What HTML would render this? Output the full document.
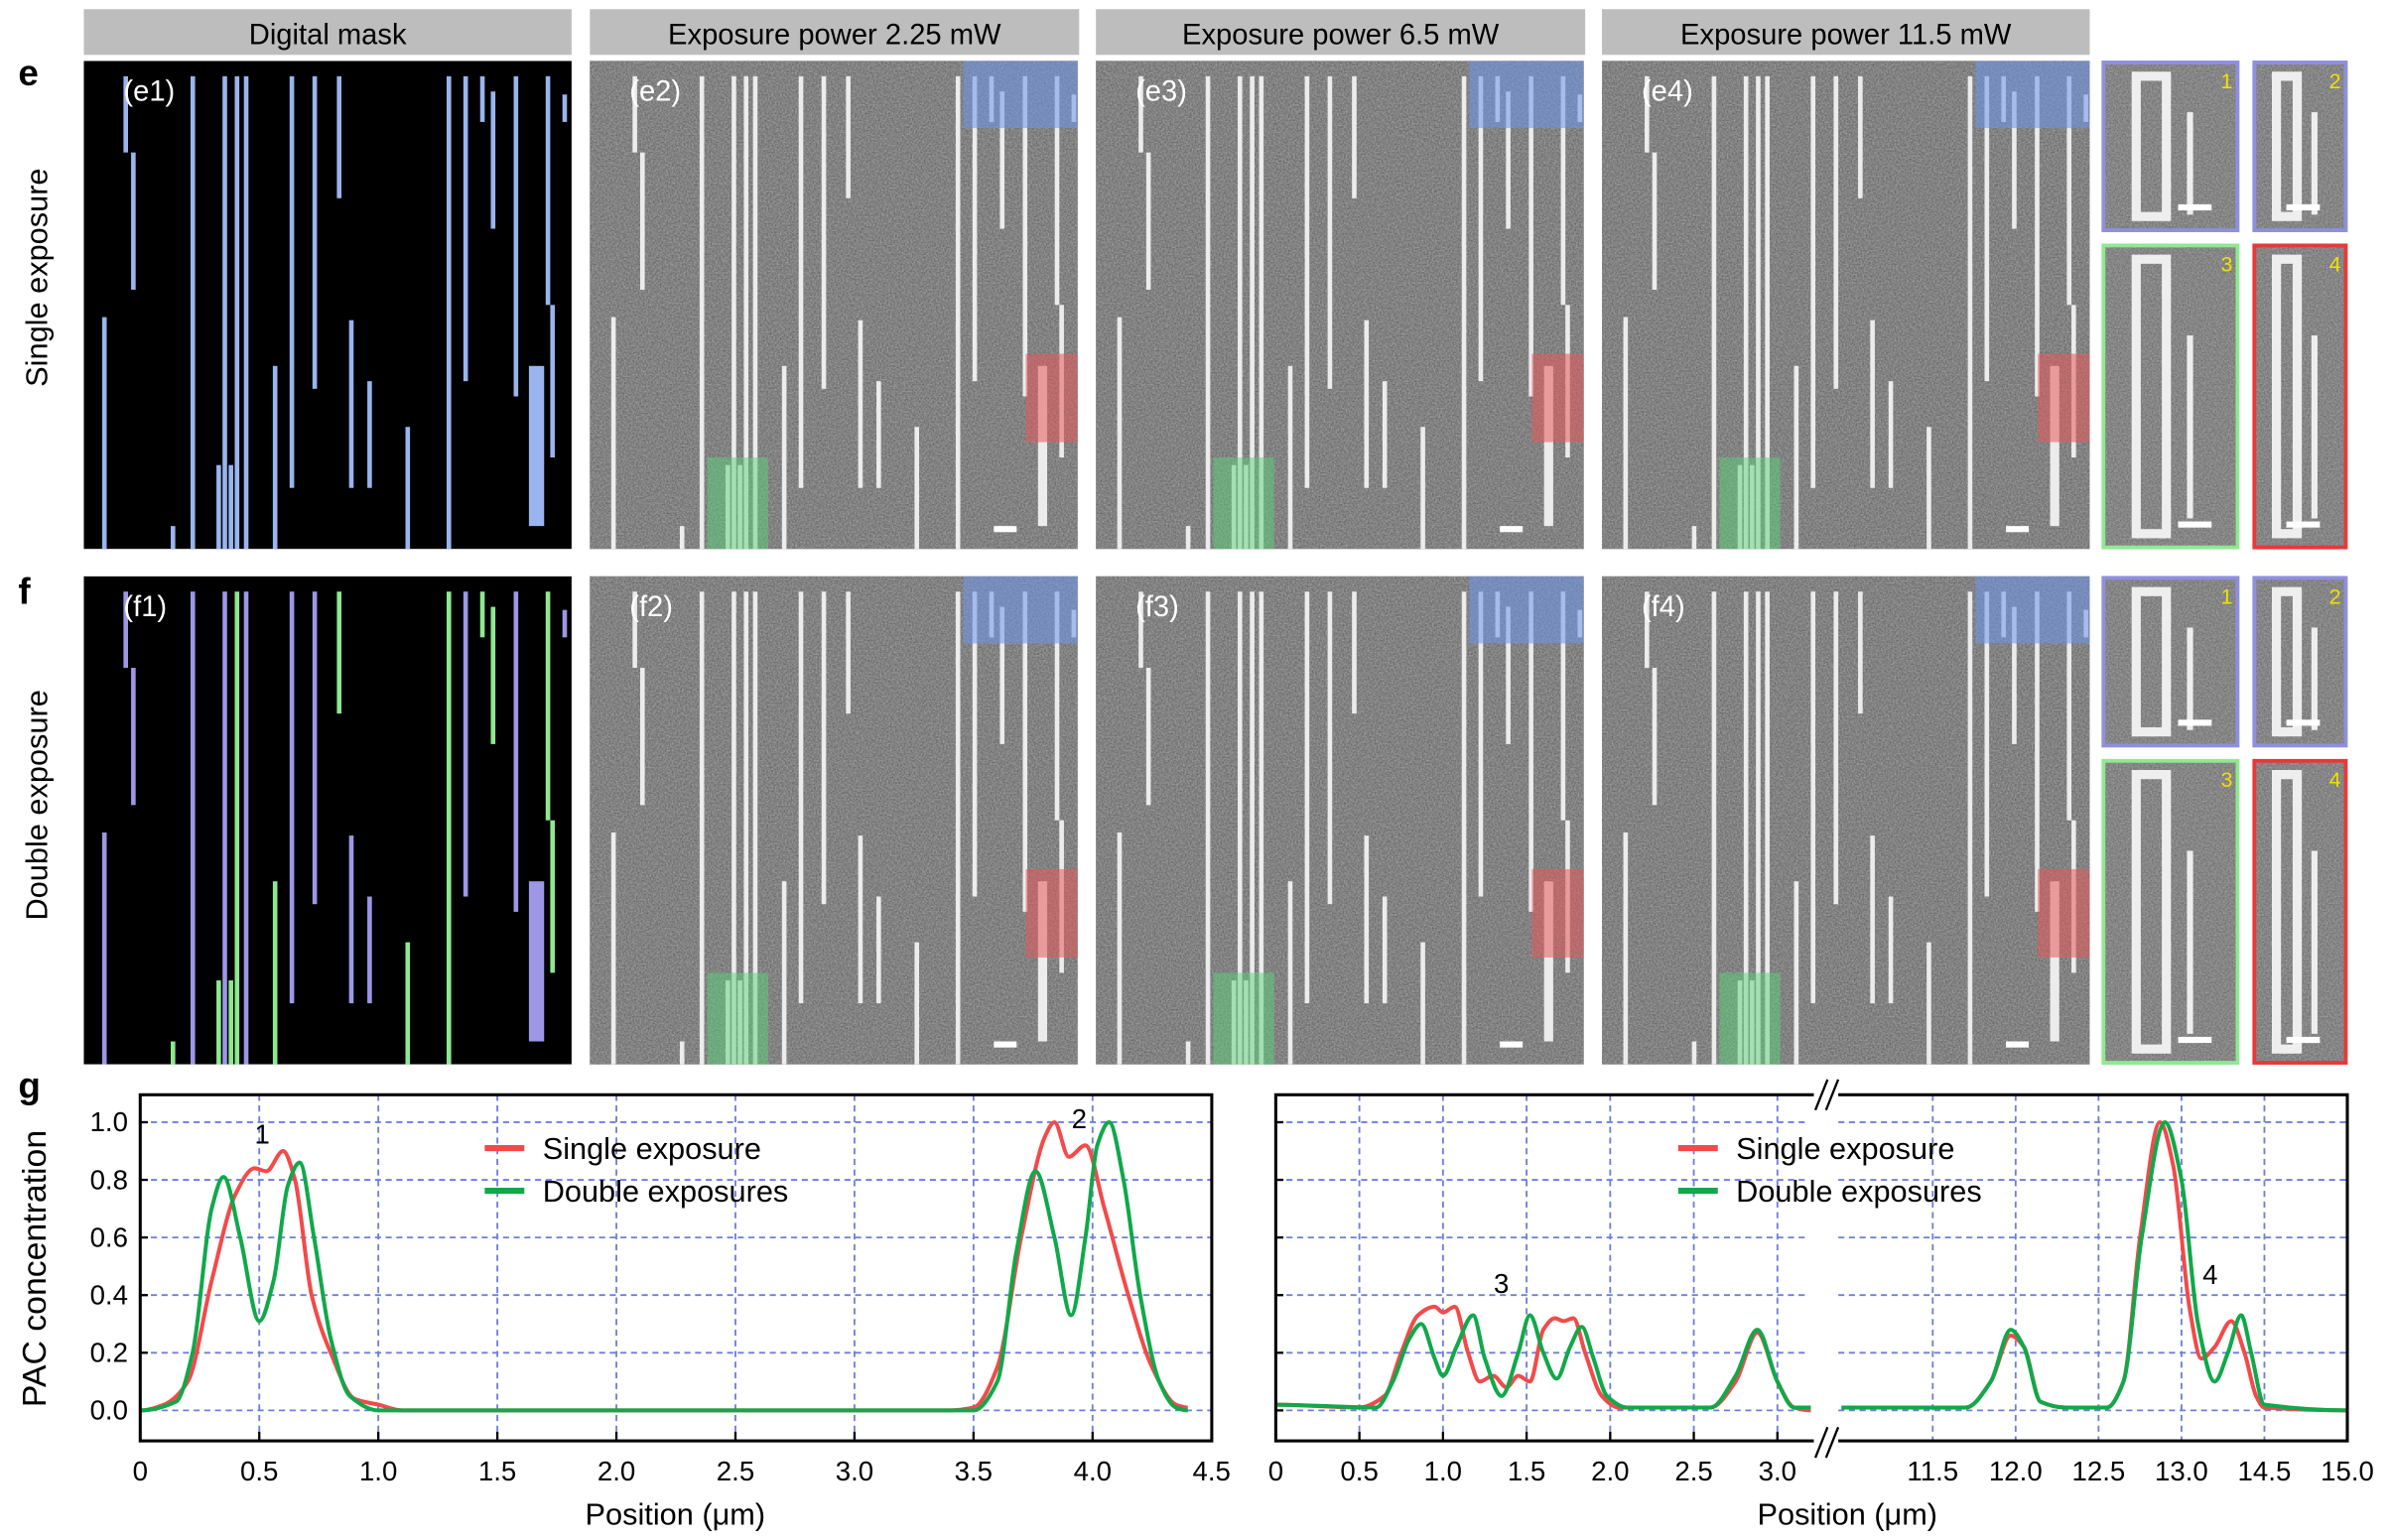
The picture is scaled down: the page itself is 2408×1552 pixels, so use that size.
<!DOCTYPE html>
<html><head><meta charset="utf-8"><style>
html,body{margin:0;padding:0;background:#fff}
svg{display:block}
text{font-family:"Liberation Sans",Arial,sans-serif}
</style></head><body>
<svg id="fig" width="2408" height="1552" viewBox="0 0 1568 1010" preserveAspectRatio="none" xmlns="http://www.w3.org/2000/svg">
<defs>
<filter id="noise" x="0" y="0" width="100%" height="100%">
<feTurbulence type="fractalNoise" baseFrequency="0.9" numOctaves="2" seed="3"/>
<feColorMatrix type="matrix" values="0 0 0 0 0.35  0 0 0 0 0.35  0 0 0 0 0.35  0 0 0 1.3 -0.1"/>
</filter>
</defs>
<g id="top"></g>
<g id="chart"></g>
</svg>
<script>
// ---------- Chart data ----------
const leftXTicks = [0,0.5,1.0,1.5,2.0,2.5,3.0,3.5,4.0,4.5];
const leftXTickLabels = ["0","0.5","1.0","1.5","2.0","2.5","3.0","3.5","4.0","4.5"];
const yTicks = [0,0.2,0.4,0.6,0.8,1.0];
const yTickLabels = ["0.0","0.2","0.4","0.6","0.8","1.0"];
const leftSingleX = [0,0.1,0.2,0.3,0.4,0.48,0.53,0.6,0.65,0.72,0.8,0.9,1.0,1.1,3.4,3.5,3.6,3.7,3.8,3.84,3.9,3.97,4.05,4.15,4.25,4.35,4.4];
const leftSingleY = [0,0.02,0.1,0.45,0.75,0.84,0.83,0.9,0.8,0.4,0.2,0.04,0.02,0,0,0.01,0.15,0.6,0.95,1.0,0.88,0.92,0.7,0.4,0.15,0.02,0.01];
const leftDoubleX = [0,0.15,0.22,0.3,0.35,0.42,0.5,0.56,0.62,0.67,0.73,0.8,0.88,1.0,3.5,3.6,3.68,3.76,3.84,3.91,3.97,4.02,4.07,4.13,4.2,4.28,4.35,4.4];
const leftDoubleY = [0,0.03,0.2,0.7,0.81,0.6,0.31,0.45,0.78,0.86,0.6,0.25,0.05,0,0,0.1,0.55,0.83,0.6,0.33,0.6,0.92,1.0,0.8,0.4,0.1,0.01,0];
const rAXTicks = [0,0.5,1.0,1.5,2.0,2.5,3.0];
const rAXTickLabels = ["0","0.5","1.0","1.5","2.0","2.5","3.0"];
const rBXTicks = [11.5,12.0,12.5,13.0,13.5,14.0];
const rBXTickLabels = ["11.5","12.0","12.5","13.0","14.5","15.0"];
const rASingleX = [0,0.5,0.65,0.75,0.85,0.95,1.0,1.07,1.15,1.22,1.3,1.38,1.45,1.52,1.6,1.67,1.72,1.78,1.85,1.95,2.05,2.6,2.75,2.88,3.0,3.1,3.2];
const rASingleY = [0.02,0.01,0.05,0.2,0.33,0.36,0.34,0.36,0.2,0.1,0.12,0.08,0.12,0.1,0.28,0.32,0.31,0.32,0.2,0.05,0.01,0.01,0.1,0.27,0.1,0.01,0];
const rADoubleX = [0,0.6,0.7,0.8,0.87,0.95,1.0,1.08,1.18,1.25,1.35,1.45,1.52,1.6,1.68,1.76,1.83,1.9,1.98,2.1,2.6,2.75,2.88,3.0,3.1,3.2];
const rADoubleY = [0.02,0.01,0.1,0.25,0.3,0.18,0.12,0.22,0.33,0.18,0.05,0.2,0.33,0.2,0.11,0.22,0.29,0.18,0.05,0.01,0.01,0.12,0.28,0.1,0.01,0.01];
const rBSingleX = [10.95,11.7,11.85,11.97,12.05,12.15,12.3,12.55,12.65,12.75,12.87,12.95,13.05,13.12,13.2,13.3,13.38,13.45,13.5,14.0];
const rBSingleY = [0.01,0.01,0.1,0.26,0.22,0.03,0.01,0.01,0.1,0.6,1.0,0.85,0.35,0.18,0.22,0.31,0.2,0.05,0.01,0];
const rBDoubleX = [10.95,11.7,11.85,11.97,12.05,12.15,12.3,12.55,12.65,12.76,12.9,13.0,13.1,13.2,13.28,13.36,13.42,13.5,14.0];
const rBDoubleY = [0.01,0.01,0.1,0.28,0.22,0.03,0.01,0.01,0.1,0.6,1.0,0.8,0.3,0.1,0.2,0.33,0.2,0.02,0];

const NS = "http://www.w3.org/2000/svg";
function mk(tag, attrs, parent){const e=document.createElementNS(NS,tag);for(const k in attrs)e.setAttribute(k,attrs[k]);parent.appendChild(e);return e;}
const chart = document.getElementById('chart');
const top_ = document.getElementById('top');

const yScale = v => 925 - v*189;
const xL = v => 92 + v*156.2;
const xRA = v => 837 + v*109.7;
const xRB = v => 1268 + (v-11.5)*108.8;

// monotone cubic (Fritsch-Carlson style) spline
function smoothPath(xs, ys, fx){
  const p = xs.map((x,i)=>[fx(x), yScale(ys[i])]);
  const n=p.length, m=[];
  for(let i=0;i<n;i++){
    if(i===0||i===n-1){m.push(0);continue;}
    const s1=(p[i][1]-p[i-1][1])/(p[i][0]-p[i-1][0]), s2=(p[i+1][1]-p[i][1])/(p[i+1][0]-p[i][0]);
    m.push(s1*s2<=0?0:2/(1/s1+1/s2));
  }
  let d = `M${p[0][0]},${p[0][1]}`;
  for(let i=0;i<n-1;i++){
    const dx=(p[i+1][0]-p[i][0])/3;
    d+=` C${p[i][0]+dx},${p[i][1]+m[i]*dx} ${p[i+1][0]-dx},${p[i+1][1]-m[i+1]*dx} ${p[i+1][0]},${p[i+1][1]}`;
  }
  return d;
}
const grid = {stroke:'#6f7fd8','stroke-width':1.2,'stroke-dasharray':'4,3',fill:'none'};
function gridLines(xs, fx, x0, x1){
  xs.forEach(v=>{ const l=mk('line',Object.assign({x1:fx(v),x2:fx(v),y1:718,y2:945},grid),chart);
     });
  yTicks.forEach(v=>{ const l=mk('line',Object.assign({x1:x0,x2:x1,y1:yScale(v),y2:yScale(v)},grid),chart);
     });
}
gridLines(leftXTicks.slice(1,-1), xL, 92, 795);
gridLines(rAXTicks.slice(1), xRA, 837, 1186);
gridLines(rBXTicks.slice(0,-1), xRB, 1206, 1540);

function tickLabels(vals, labels, fx, name){
  vals.forEach((v,i)=>{const t=mk('text',{x:fx(v),y:971,'font-size':18,'text-anchor':'middle',fill:'#000'},chart);
      t.textContent=labels[i];
    const tk=mk('line',{x1:fx(v),x2:fx(v),y1:945,y2:939,stroke:'#000','stroke-width':1.5},chart);
     });
}
tickLabels(leftXTicks, leftXTickLabels, xL, 'x-tick-label');
tickLabels(rAXTicks, rAXTickLabels, xRA, 'x-tick-label');
rBXTicks.forEach((v,i)=>{const t=mk('text',{x:xRB(v),y:971,'font-size':18,'text-anchor':'middle'},chart);
    t.textContent=rBXTickLabels[i];});
yTicks.forEach((v,i)=>{const t=mk('text',{x:84,y:yScale(v)+6,'font-size':18,'text-anchor':'end'},chart);
    t.textContent=yTickLabels[i];
  const tk=mk('line',{x1:92,x2:97,y1:yScale(v),y2:yScale(v),stroke:'#000','stroke-width':1.5},chart);
   
  const tk2=mk('line',{x1:837,x2:842,y1:yScale(v),y2:yScale(v),stroke:'#000','stroke-width':1.5},chart);
   });

function series(xs,ys,fx,color,name){const p=mk('path',{d:smoothPath(xs,ys,fx),stroke:color,'stroke-width':2.6,fill:'none','stroke-linejoin':'round'},chart);
   }
series(leftSingleX,leftSingleY,xL,'#f24a4a','single-exposure-line-left');
series(leftDoubleX,leftDoubleY,xL,'#10a84a','double-exposure-line-left');
series(rASingleX,rASingleY,xRA,'#f24a4a','single-exposure-line-right-a');
series(rADoubleX,rADoubleY,xRA,'#10a84a','double-exposure-line-right-a');
series(rBSingleX,rBSingleY,xRB,'#f24a4a','single-exposure-line-right-b');
series(rBDoubleX,rBDoubleY,xRB,'#10a84a','double-exposure-line-right-b');

let f=mk('rect',{x:92,y:718,width:703,height:227,fill:'none',stroke:'#000','stroke-width':2},chart);
 
f=mk('rect',{x:837,y:718,width:703,height:227,fill:'none',stroke:'#000','stroke-width':2},chart);
 
f=mk('g',{},chart);  
mk('rect',{x:1190,y:708,width:16,height:20,fill:'#fff'},f);
mk('rect',{x:1190,y:936,width:16,height:20,fill:'#fff'},f);
mk('rect',{x:1190,y:730,width:16,height:204,fill:'#fff'},f);
[[1191,1199],[1198,1206]].forEach(([a,b])=>{mk('line',{x1:a,y1:728,x2:b,y2:708,stroke:'#000','stroke-width':1.5},f);mk('line',{x1:a,y1:956,x2:b,y2:936,stroke:'#000','stroke-width':1.5},f);});

function legend(x,y){const g=mk('g',{},chart);  
  mk('line',{x1:x,x2:x+26,y1:y,y2:y,stroke:'#f24a4a','stroke-width':4},g);
  let t=mk('text',{x:x+38,y:y+7,'font-size':20},g); t.textContent='Single exposure';
  mk('line',{x1:x,x2:x+26,y1:y+28,y2:y+28,stroke:'#10a84a','stroke-width':4},g);
  t=mk('text',{x:x+38,y:y+35,'font-size':20},g); t.textContent='Double exposures';}
legend(318,753); legend(1101,753);
function txt(x,y,s,size,name,extra){const t=mk('text',Object.assign({x:x,y:y,'font-size':size},extra||{}),chart);t.textContent=s;
   return t;}
txt(167,750,'1',18,'peak-label-1'); txt(703,740,'2',18,'peak-label-2');
txt(980,848,'3',18,'peak-label-3'); txt(1445,842,'4',18,'peak-label-4');
txt(443,1000,'Position (\u03bcm)',20,'x-axis-title',{'text-anchor':'middle'});
txt(1212,1000,'Position (\u03bcm)',20,'x-axis-title',{'text-anchor':'middle'});
txt(0,0,'PAC concentration',22,'y-axis-title',{'text-anchor':'middle',transform:'translate(30,832) rotate(-90)'});
txt(12,720,'g',24,'panel-label-g',{'font-weight':'bold'});

// ---------- Top image panels ----------
function T(x,y,s,size,name,extra){const t=mk('text',Object.assign({x:x,y:y,'font-size':size},extra||{}),top_);t.textContent=s;
   return t;}
const headers=[[55,375,'Digital mask'],[387,708,'Exposure power 2.25 mW'],[719,1040,'Exposure power 6.5 mW'],[1051,1371,'Exposure power 11.5 mW']];
headers.forEach(h=>{const r=mk('rect',{x:h[0],y:6,width:h[1]-h[0],height:30,fill:'#bdbdbd'},top_);
   
  T((h[0]+h[1])/2,29,h[2],19,'column-header-text',{'text-anchor':'middle'});});
T(12,56,'e',24,'panel-label-e',{'font-weight':'bold'});
T(12,396,'f',24,'panel-label-f',{'font-weight':'bold'});
T(0,0,'Single exposure',20,'row-title-single',{'text-anchor':'middle',transform:'translate(31,182) rotate(-90)'});
T(0,0,'Double exposure',20,'row-title-double',{'text-anchor':'middle',transform:'translate(31,528) rotate(-90)'});

const lines=[[12,158,310,3,0],[26,0,50,3,0],[31,50,140,3,0],[57,295,310,3,1],[70,0,310,3,0],[87,255,310,3,1],[91,0,310,3,0],[95,255,310,3,1],[99,0,310,3,1],[105,0,310,3,0],[124,190,310,3,1],[135,0,270,3,0],[150,0,205,3,0],[166,0,80,3,1],[174,160,270,3,0],[186,200,270,3,0],[211,230,310,3,1],[238,0,310,3,1],[249,0,200,3,0],[260,0,30,3,1],[267,10,100,3,1],[282,0,210,3,0],[303,0,150,3,1],[306,150,250,3,1],[292,190,295,10,0],[314,12,30,3,0]];
function maskPanel(x0,y0,dbl,name){const g=mk('g',{},top_);  
  mk('rect',{x:x0,y:y0,width:320,height:320,fill:'#000'},g);
  lines.forEach(l=>{const c=dbl?(l[4]?'#8ee88e':'#9c98e6'):'#9ab4ee';
    mk('rect',{x:x0+l[0],y:y0+10+l[1],width:l[3],height:l[2]-l[1],fill:c},g);});
  return g;}
function semPanel(x0,y0,name){const g=mk('g',{},top_);  
  mk('rect',{x:x0,y:y0,width:320,height:320,fill:'#5e5e5e'},g);
  mk('rect',{x:x0,y:y0,width:320,height:320,filter:'url(#noise)'},g);
  lines.forEach(l=>{mk('rect',{x:x0+l[0]+2,y:y0+10+l[1],width:Math.max(3,l[3]*0.6),height:l[2]-l[1],fill:'#ececec'},g);});
  mk('rect',{x:x0+245,y:y0,width:75,height:44,fill:'rgba(110,150,235,0.55)'},g);
  mk('rect',{x:x0+286,y:y0+192,width:34,height:58,fill:'rgba(230,90,90,0.55)'},g);
  mk('rect',{x:x0+77,y:y0+260,width:40,height:60,fill:'rgba(90,210,120,0.5)'},g);
  mk('rect',{x:x0+265,y:y0+305,width:15,height:4,fill:'#fff'},g);
  return g;}
const cols=[55,387,719,1051];
[[40,'e'],[378,'f']].forEach(([y0,r])=>{
  maskPanel(55,y0,r==='f','mask-panel-'+r+'1');
  for(let i=1;i<4;i++) semPanel(cols[i],y0,'sem-panel-'+r+(i+1));
  for(let i=0;i<4;i++) T(cols[i]+26,y0+26,'('+r+(i+1)+')',19,'panel-tag',{fill:'#fff'});
  const ins=[[1379,y0,90,112,'#8f8fe0','1'],[1478,y0,62,112,'#8f8fe0','2'],[1379,y0+120,90,200,'#90e890','3'],[1478,y0+120,62,200,'#e83838','4']];
  ins.forEach(s=>{const g=mk('g',{},top_);  
    mk('rect',{x:s[0],y:s[1],width:s[2],height:s[3],fill:'#666'},g);
    mk('rect',{x:s[0],y:s[1],width:s[2],height:s[3],filter:'url(#noise)'},g);
    mk('rect',{x:s[0]+s[2]*0.25,y:s[1]+10,width:s[2]*0.22,height:s[3]-20,fill:'none',stroke:'#eee','stroke-width':6},g);
    mk('rect',{x:s[0]+s[2]*0.62,y:s[1]+s[3]*0.3,width:4,height:s[3]*0.6,fill:'#eee'},g);
    mk('rect',{x:s[0]+s[2]-40,y:s[1]+s[3]-18,width:22,height:4,fill:'#fff'},g);
    mk('rect',{x:s[0]+1,y:s[1]+1,width:s[2]-2,height:s[3]-2,fill:'none',stroke:s[4],'stroke-width':2.5},g);
    const t=mk('text',{x:s[0]+s[2]-12,y:s[1]+18,'font-size':14,fill:'#f0e000'},g); t.textContent=s[5];});
});
</script>
</body></html>
